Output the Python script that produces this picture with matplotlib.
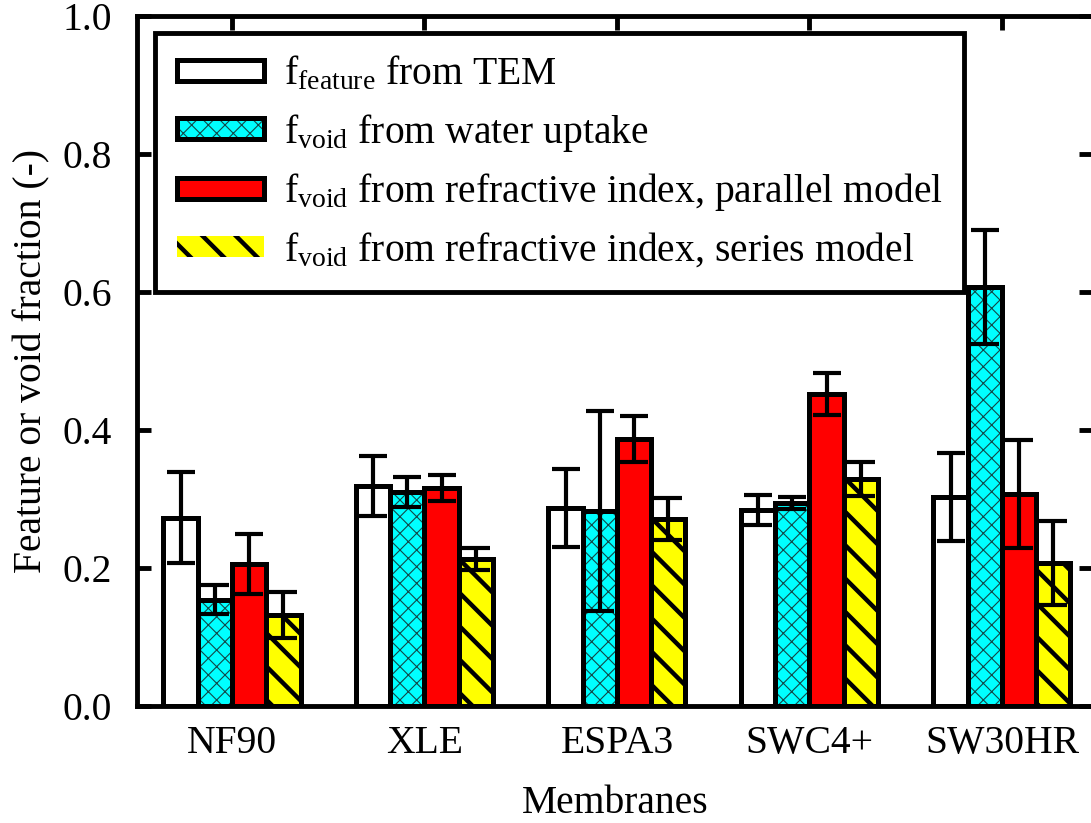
import numpy as np
import matplotlib
matplotlib.use('Agg')
import matplotlib.pyplot as plt
from matplotlib.legend_handler import HandlerTuple
from matplotlib.patches import Rectangle

plt.rcParams['font.family'] = ['Liberation Serif', 'DejaVu Serif']
plt.rcParams['mathtext.fontset'] = 'custom'
plt.rcParams['mathtext.rm'] = 'Liberation Serif'
plt.rcParams['mathtext.it'] = 'Liberation Serif:italic'

# data
membranes = ['NF90', 'XLE', 'ESPA3', 'SWC4+', 'SW30HR']
f_tem = [0.273, 0.319, 0.287, 0.284, 0.303]
f_tem_err = [0.066, 0.043, 0.056, 0.022, 0.064]
f_water = [0.154, 0.310, 0.283, 0.294, 0.607]
f_water_err = [0.021, 0.022, 0.145, 0.009, 0.083]
f_parallel = [0.206, 0.316, 0.387, 0.452, 0.307]
f_parallel_err = [0.043, 0.019, 0.034, 0.030, 0.078]
f_series = [0.132, 0.213, 0.271, 0.329, 0.207]
f_series_err = [0.033, 0.016, 0.030, 0.025, 0.061]

labels = [r'f$_{\mathrm{feature}}$ from TEM',
          r'f$_{\mathrm{void}}$ from water uptake',
          r'f$_{\mathrm{void}}$ from refractive index, parallel model',
          r'f$_{\mathrm{void}}$ from refractive index, series model']

series = [
    (f_tem, f_tem_err, 'white', None, 'k', 1.0, True),
    (f_water, f_water_err, '#00ffff', 'xx', '#124848', 0.8, True),
    (f_parallel, f_parallel_err, '#ff0000', None, 'k', 1.0, True),
    (f_series, f_series_err, '#ffff00', '\\', 'k', 3.2, False),
]

fig = plt.figure(figsize=(10.91, 8.23), dpi=100)
ax = fig.add_axes([137/1091, 117/823, 956/1091, 690/823])

x = np.arange(len(membranes))
w = 0.178
fs = 28.5

handles = []
for i, (vals, errs, face, hatch, hcol, hlw, leg_edge) in enumerate(series):
    pos = x + (i - 1.5) * w
    with plt.rc_context({'hatch.linewidth': hlw}):
        fill = ax.bar(pos, vals, w, color=face, hatch=hatch, edgecolor=hcol, linewidth=0)
    for p in fill:
        if hasattr(p, 'set_hatch_linewidth'):
            p.set_hatch_linewidth(hlw)
    outline = ax.bar(pos, vals, w, fill=False, edgecolor='k', linewidth=3.6)
    ax.errorbar(pos, vals, yerr=errs, fmt='none', ecolor='k', elinewidth=3,
                capsize=10, capthick=3)
    handles.append((fill, outline) if leg_edge else fill)

ax.set_xlim(-0.4935, 4.473)
ax.set_ylim(0, 1.0)
ax.set_yticks(np.arange(0, 1.01, 0.2))
ax.set_yticklabels(['%.1f' % v for v in np.arange(0, 1.01, 0.2)])
ax.set_xticks(x)
ax.set_xticklabels(membranes)

for s in ax.spines.values():
    s.set_linewidth(3.5)
ax.tick_params(axis='y', direction='in', left=True, right=True, length=10,
               width=3.5, labelsize=fs, pad=18)
ax.tick_params(axis='x', direction='in', bottom=False, top=True, length=10,
               width=3.5, labelsize=fs, pad=14)

ax.set_xlabel('Membranes', fontsize=fs, labelpad=16)
ax.set_ylabel('Feature or void fraction (-)', fontsize=fs, labelpad=9)

with plt.rc_context({'hatch.linewidth': 3.2}):
    leg = ax.legend(handles, labels, loc='upper left',
                    bbox_to_anchor=(0.0188, 0.975), borderaxespad=0,
                    fontsize=fs, frameon=True, fancybox=False, framealpha=1,
                    handlelength=2.2, handleheight=0.45, handletextpad=0.5,
                    labelspacing=0.45, borderpad=0.55,
                    handler_map={tuple: HandlerTuple(ndivide=1, pad=0)})
leg.get_frame().set_edgecolor('k')
leg.get_frame().set_linewidth(3.5)
for p in leg.findobj(Rectangle):
    if p.get_hatch() == '\\' and hasattr(p, 'set_hatch_linewidth'):
        p.set_hatch_linewidth(3.2)
    elif p.get_hatch() == 'xx' and hasattr(p, 'set_hatch_linewidth'):
        p.set_hatch_linewidth(0.8)

fig.savefig('out.png', dpi=100)
